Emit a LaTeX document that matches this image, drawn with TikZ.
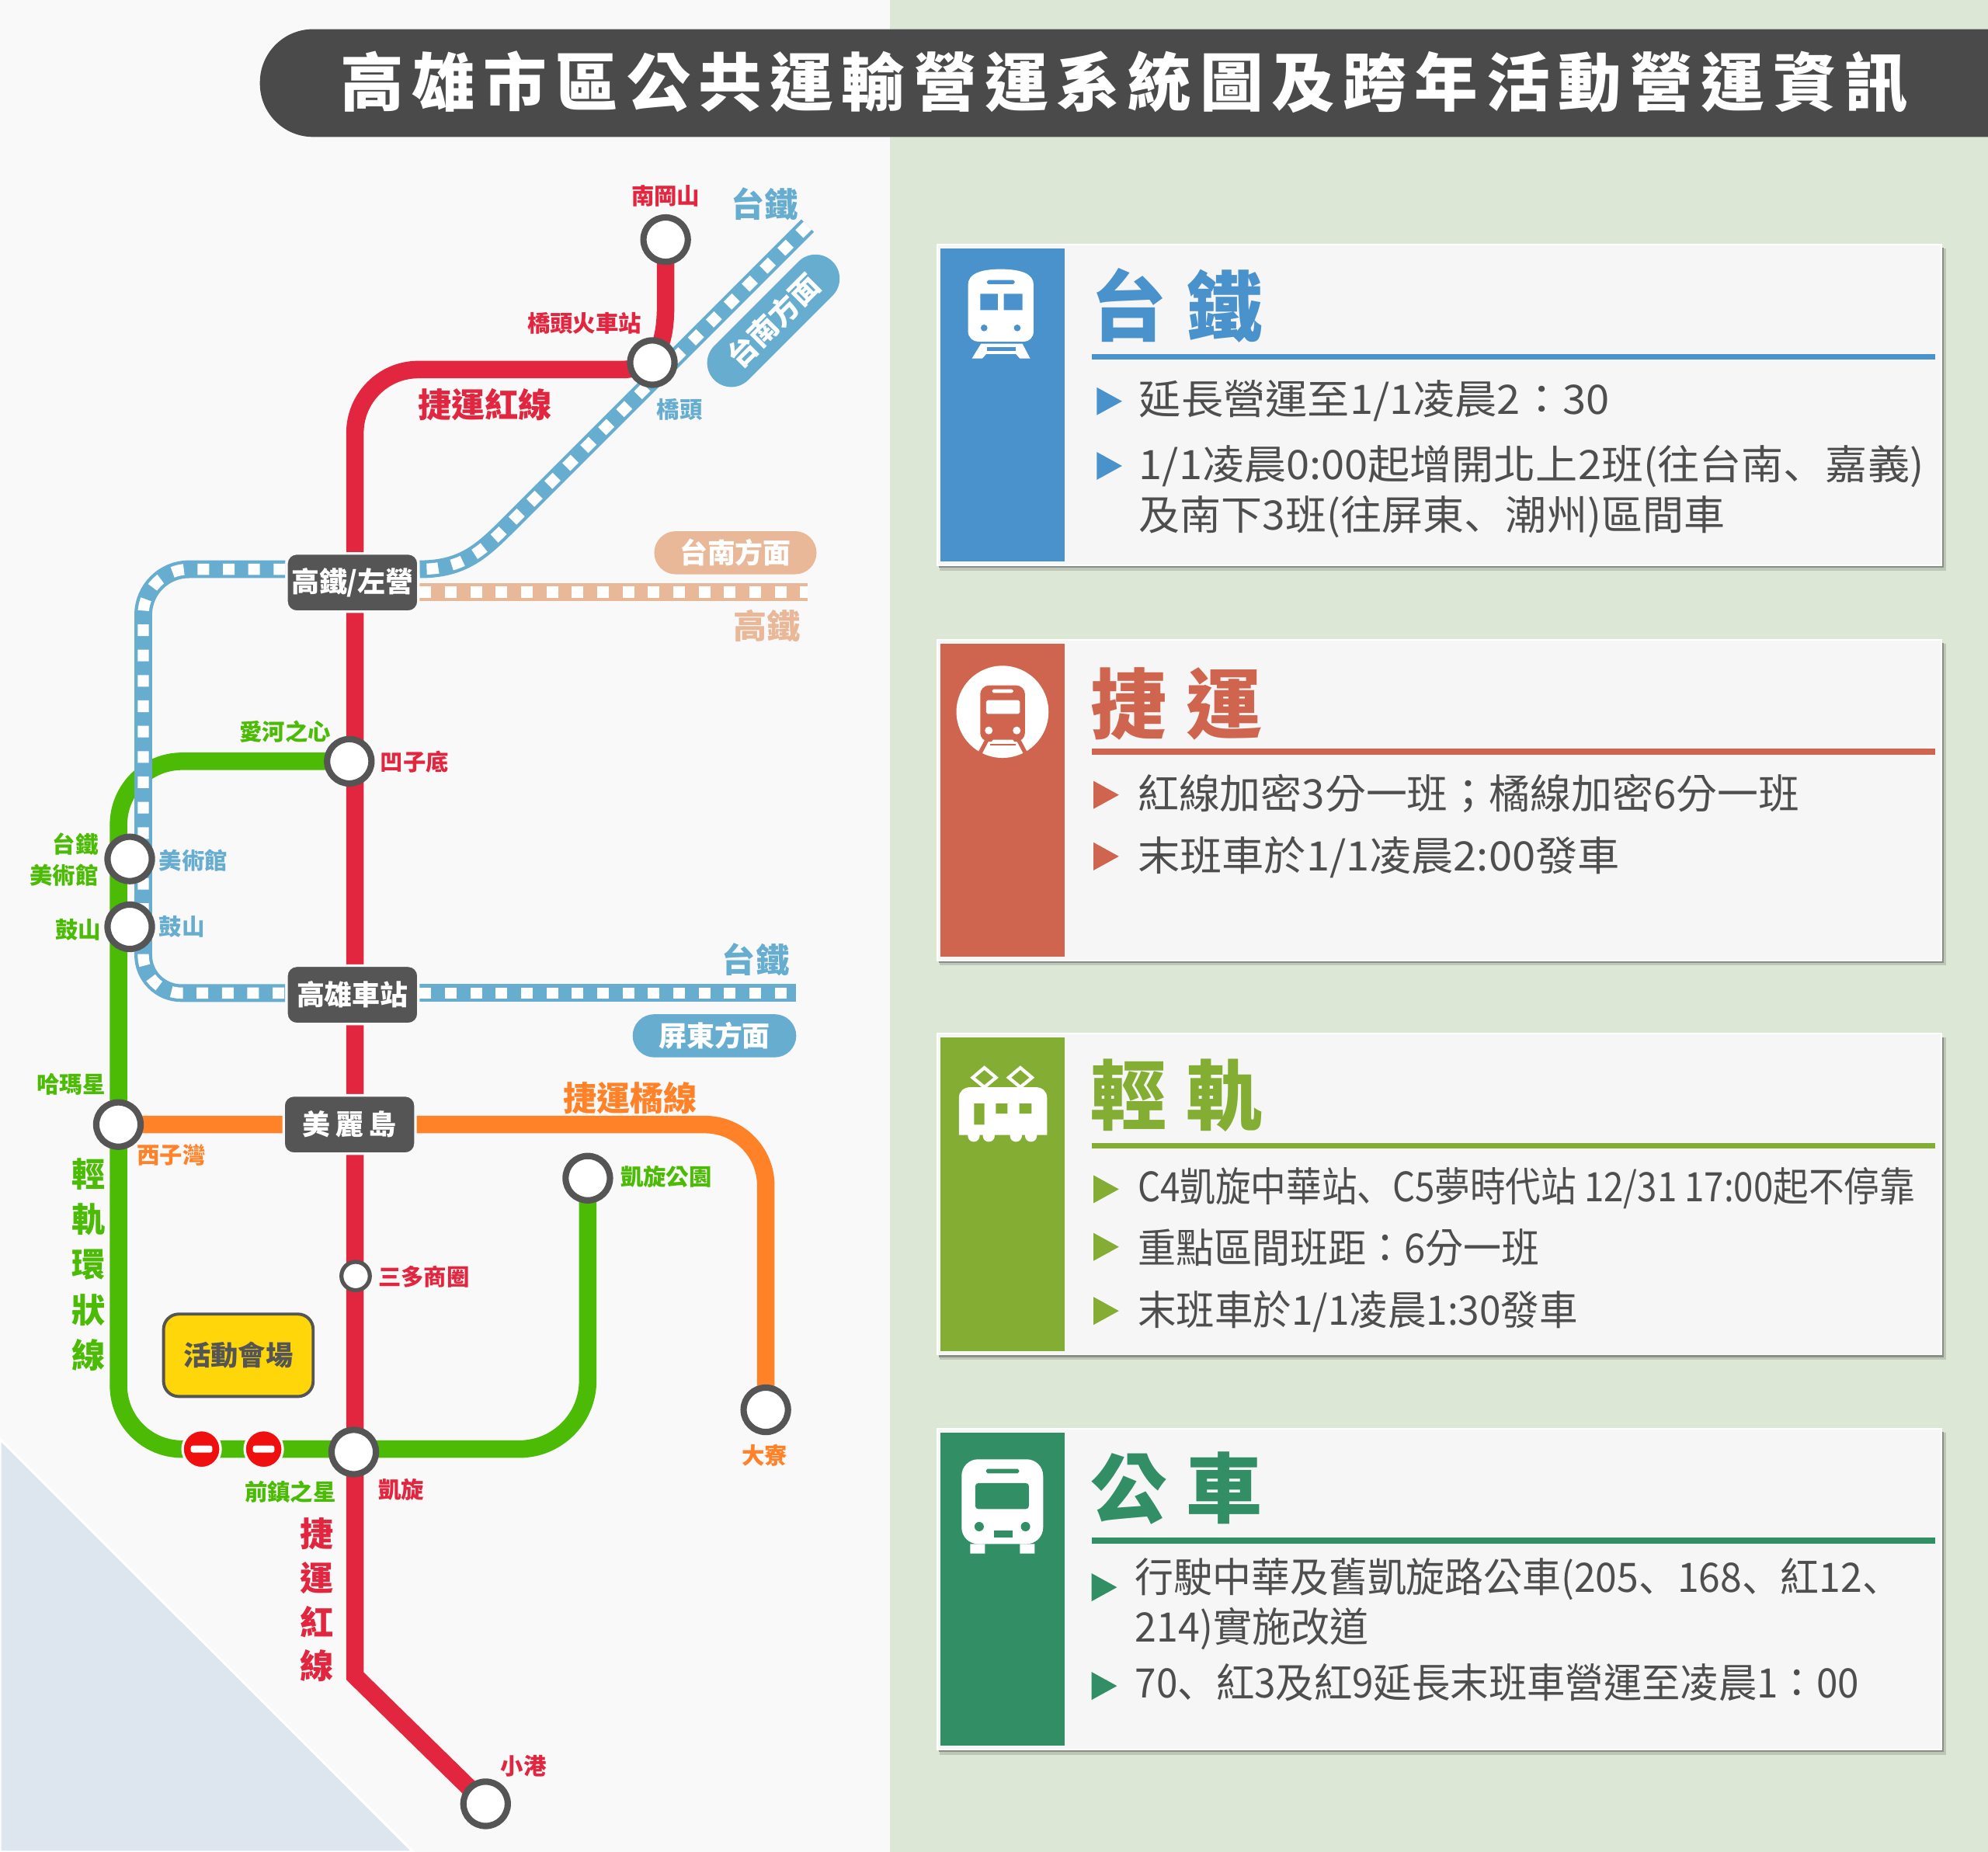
\documentclass[tikz,border=0pt]{standalone}
\usepackage{fontspec}
\setmainfont{Noto Sans CJK TC}
\newfontfamily\scpunct{Noto Sans CJK SC}
\usetikzlibrary{calc}
\definecolor{leftbg}{HTML}{F9F9F9}
\definecolor{rightbg}{HTML}{DDE7D5}
\definecolor{cornerbg}{HTML}{DDE5EE}
\definecolor{darkbar}{HTML}{4A4A4A}
\definecolor{stationgray}{HTML}{555555}
\definecolor{tred}{HTML}{E2263F}
\definecolor{tgreen}{HTML}{4CBB05}
\definecolor{torange}{HTML}{FF8228}
\definecolor{tblue}{HTML}{66ADD0}
\definecolor{tpeach}{HTML}{E9B899}
\definecolor{cardfill}{HTML}{F6F6F6}
\definecolor{bodytxt}{HTML}{4E4E4E}
\definecolor{cblue}{HTML}{4A92CC}
\definecolor{cred}{HTML}{D0654F}
\definecolor{cgreen}{HTML}{84AE33}
\definecolor{cteal}{HTML}{318E65}
\definecolor{signred}{HTML}{F00F0F}
\definecolor{boxyellow}{HTML}{FFD60A}
\newcommand\fz[1]{\fontsize{#1}{#1}\selectfont}
\newcommand\dun{{\scpunct 、}}
\newcommand\fitw[2]{\resizebox{#1pt}{\height}{#2}}
\pgfdeclarelayer{bgl}
\pgfdeclarelayer{linesl}
\pgfsetlayers{bgl,linesl,main}
\tikzset{
  x=.5pt,y=-.5pt,
  metro/.style={draw=#1,line width=6.9pt},
  rail/.style={draw=#1,line width=7pt,postaction={draw=white,line width=4.4pt,dash pattern=on 4.6pt off 5.4pt}},
  station/.style={circle,draw=stationgray,fill=white,line width=2.5pt,minimum size=17.5pt,inner sep=0pt},
  hub/.style={rectangle,rounded corners=4pt,fill=stationgray,draw=leftbg,line width=1pt,minimum width=52pt,minimum height=23pt,inner sep=0pt,text=white,font=\bfseries\fz{11}},
  pill/.style={rectangle,rounded corners=8.5pt,fill=#1,minimum height=17pt,inner sep=0pt,text=white,font=\bfseries\fz{11}},
  lab/.style={inner sep=0pt,text=#1,font=\bfseries\fz{9}},
  biglab/.style={inner sep=0pt,text=#1,font=\bfseries\fz{13.2}},
  nosign/.style={circle,fill=signred,draw=leftbg,line width=1pt,minimum size=15pt,inner sep=0pt},
  head/.style={inner sep=0pt,anchor=west,text=#1,font=\bfseries\fz{30}},
  bodyline/.style={inner sep=0pt,anchor=base west,text=bodytxt,font=\fz{16}},
}
\newcommand\card[3]{% top y, colour, name
  \fill[black!14!rightbg] (741,#1+3) rectangle (1535,#1+257);
  \fill[black!38!rightbg] (740.5,#1+2.5) rectangle (1533,#1+255);
  \fill[cardfill,draw=white,line width=.6pt] (739,#1) rectangle (1531,#1+253);
  \fill[#2] (741.5,#1+3) rectangle (839.5,#1+250);
  \fill[#2] (861,#1+86) rectangle (1526.5,#1+90.6);
}
\newcommand\bul[4]{\fill[#1] (#2,#3-11) -- (#2+20,#3) -- (#2,#3+11) -- cycle;}
\begin{document}
\begin{tikzpicture}
\useasboundingbox (0,0) rectangle (1568,1460.8);
\begin{pgfonlayer}{bgl}
\fill[leftbg] (0,0) rectangle (702,1460.8);
\fill[rightbg] (702,0) rectangle (1568,1460.8);
\fill[cornerbg,draw=white,line width=1pt] (0,1135) -- (326,1460.8) -- (0,1460.8) -- cycle;
\fill[darkbar,rounded corners=21pt] (205,23) rectangle (1660,108);
\end{pgfonlayer}
\node[inner sep=0pt,text=white,anchor=west] (title) at (268,65) {\bfseries\fz{25}\addfontfeatures{LetterSpace=13}高雄市區公共運輸營運系統圖及跨年活動營運資訊};

% stations
\node[station] (nangang) at (525,189) {};
\node[station] (qiaotou) at (514.5,286) {};
\node[station] (aozidi) at (275.5,600.5) {};
\node[station] (museum) at (102.3,677.5) {};
\node[station] (gushan) at (102.3,731) {};
\node[station] (xizi) at (93.4,887) {};
\node[station] (kaipark) at (463.6,929.3) {};
\node[station,line width=1.6pt,minimum size=11.2pt] (sanduo) at (280.5,1006.5) {};
\node[station] (daliao) at (604,1112) {};
\node[station] (kaixuan) at (279,1145.3) {};
\node[station] (xiaogang) at (383,1422.8) {};
\node[hub] (zuoying) at (278,459.5) {高鐵/左營};
\node[hub] (kaohsiung) at (278,784.7) {高雄車站};
\node[hub] (formosa) at (275.7,887) {美\hspace{2pt}麗\hspace{2pt}島};
\node[nosign] (signa) at (159,1143) {};
\node[nosign] (signb) at (208,1143) {};
\fill[white,rounded corners=.8pt] (150.5,1140.3) rectangle (167.5,1145.7);
\fill[white,rounded corners=.8pt] (199.5,1140.3) rectangle (216.5,1145.7);

\begin{pgfonlayer}{linesl}
\draw[metro=tgreen] (aozidi.center) [rounded corners=25pt] -- (93.5,600.5) -- (93.5,1143) [rounded corners=27pt] -- (463.6,1143) [sharp corners] -- (kaipark.center);
\coordinate (railne) at (637,178);
\coordinate (hsrend) at (637,467);
\coordinate (traeast) at (628,783.3);
\draw[rail=tblue] (railne) -- (402,413) .. controls (380,435) and (365,449) .. (zuoying.east |- 0,449);
\draw[rail=tblue] (zuoying.west |- 0,449) [rounded corners=18pt] -- (113,449) [rounded corners=15pt] -- (113,783.3) -- (kaohsiung.west |- 0,783.3);
\draw[rail=tblue] (kaohsiung.east |- 0,783.3) -- (traeast);
\draw[rail=tpeach] (zuoying.east |- 0,467) -- (hsrend);
\draw[metro=torange] (xizi.center) [rounded corners=24pt] -- (604,887) -- (daliao.center);
\draw[metro=tred] (nangang.center) -- (525,240) .. controls (525,272) and (518,291.5) .. (490,291.5) [rounded corners=25pt] -- (280,291.5) [sharp corners] -- (280,1322) -- (xiaogang.center);
\end{pgfonlayer}

% pills
\node[pill=tpeach,minimum width=64pt] (pilla) at (580,436) {台南方面};
\node[pill=tblue,minimum width=64.5pt] (pillb) at (563.5,817) {屏東方面};
\node[pill=tblue,minimum width=66pt,minimum height=19pt,rounded corners=9.5pt,rotate=45,font=\bfseries\fz{11.5}] (pillc) at (610,253) {台南方面};
\node[rectangle,rounded corners=6pt,fill=boxyellow,draw=stationgray,line width=1.2pt,minimum width=59pt,minimum height=32.5pt,inner sep=0pt,text=stationgray,font=\bfseries\fz{10.8}] (venue) at (188,1069) {活動會場};

% map labels
\node[lab=tred] (l1) at (525,154.5) {南岡山};
\node[lab=tred] (l2) at (461,255) {橋頭火車站};
\node[biglab=tred] (l3) at (382.5,319) {捷運紅線};
\node[lab=tblue] (l4) at (536,323) {橋頭};
\node[biglab=tblue] (l5) at (603,161) {台鐵};
\node[biglab=tpeach] (l6) at (605,494) {高鐵};
\node[lab=tgreen] (l7) at (225,577) {愛河之心};
\node[lab=tred] (l8) at (327,601) {凹子底};
\node[lab=tgreen,anchor=east] (l9) at (78,666) {台鐵};
\node[lab=tgreen,anchor=east] (l10) at (78,690.5) {美術館};
\node[lab=tblue,anchor=west] (l11) at (125,679) {美術館};
\node[lab=tgreen,anchor=east] (l12) at (80,733.5) {鼓山};
\node[lab=tblue,anchor=west] (l13) at (125,731) {鼓山};
\node[biglab=tblue] (l14) at (596,757) {台鐵};
\node[lab=tgreen] (l15) at (56,855) {哈瑪星};
\node[lab=torange] (l16) at (135,911) {西子灣};
\node[biglab=torange] (l17) at (497,866) {捷運橘線};
\node[lab=tgreen,anchor=west] (l18) at (489,928) {凱旋公園};
\node[lab=tred,anchor=west] (l19) at (298,1007) {三多商圈};
\node[lab=torange] (l20) at (603,1148) {大寮};
\node[lab=tgreen] (l21) at (229,1177) {前鎮之星};
\node[lab=tred] (l22) at (316.5,1175) {凱旋};
\node[lab=tred] (l23) at (413,1393) {小港};
\node[inner sep=0pt,text=tgreen,align=center,font=\bfseries\fontsize{13.2}{17.85}\selectfont] (l24) at (70,997.5) {輕\\軌\\環\\狀\\線};
\node[inner sep=0pt,text=tred,align=center,font=\bfseries\fontsize{13.2}{17.35}\selectfont] (l25) at (250,1262) {捷\\運\\紅\\線};

% cards
\card{193}{cblue}{a}
\card{504.5}{cred}{b}
\card{815.5}{cgreen}{c}
\card{1127}{cteal}{d}
\node[head=cblue] (h1) at (860,241) {台\hspace{7.5pt}鐵};
\node[head=cred] (h2) at (860,555) {捷\hspace{7.5pt}運};
\node[head=cgreen] (h3) at (860,864) {輕\hspace{7.5pt}軌};
\node[head=cteal] (h4) at (860,1174) {公\hspace{7.5pt}車};

\bul{cblue}{865}{316.5}{}
\bul{cblue}{865}{367.5}{}
\node[bodyline] (t1) at (898,327) {\fitw{185.5}{延長營運至1/1凌晨2：30}};
\node[bodyline] (t2) at (898,378) {\fitw{309.5}{1/1凌晨0:00起增開北上2班(往台南\dun 嘉義)}};
\node[bodyline] (t3) at (898,418) {\fitw{231}{及南下3班(往屏東\dun 潮州)區間車}};

\bul{cred}{862.5}{627}{}
\bul{cred}{862.5}{675.5}{}
\node[bodyline] (t4) at (897,638) {\fitw{261}{紅線加密3分一班；橘線加密6分一班}};
\node[bodyline] (t5) at (897,687) {\fitw{190}{末班車於1/1凌晨2:00發車}};

\bul{cgreen}{862.5}{938}{}
\bul{cgreen}{862.5}{983.5}{}
\bul{cgreen}{862.5}{1034}{}
\node[bodyline] (t6) at (897,948) {\fitw{306.5}{C4凱旋中華站\dun C5夢時代站 12/31 17:00起不停靠}};
\node[bodyline] (t7) at (897,996) {\fitw{158.5}{重點區間班距：6分一班}};
\node[bodyline] (t8) at (897,1045) {\fitw{173.5}{末班車於1/1凌晨1:30發車}};

\bul{cteal}{861}{1252}{}
\bul{cteal}{861}{1329.8}{}
\node[bodyline] (t9) at (895,1256) {\fitw{302}{行駛中華及舊凱旋路公車(205\dun 168\dun 紅12\dun}};
\node[bodyline] (t10) at (895,1295) {\fitw{92}{214)實施改道}};
\node[bodyline] (t11) at (895,1339) {\fitw{285.5}{70\dun 紅3及紅9延長末班車營運至凌晨1：00}};

% icon: train
\begin{scope}[shift={(738,202.1)},scale=.2042]
\fill[white] (125,110) .. controls (125,70) and (170,50) .. (250,50) .. controls (335,50) and (378,70) .. (378,110) -- (378,290) .. controls (378,315) and (360,330) .. (340,330) -- (165,330) .. controls (145,330) and (125,315) .. (125,290) -- cycle;
\fill[cblue] (172,145) rectangle (240,208) (263,145) rectangle (335,208);
\fill[cblue,rounded corners=.6pt] (198,92) rectangle (305,108);
\fill[cblue] (187,277) circle[radius=13] (315,277) circle[radius=13];
\fill[white] (175,338) -- (335,338) -- (365,395) -- (325,395) -- (310,378) -- (195,378) -- (180,395) -- (140,395) -- cycle;
\fill[cblue] (198,352) rectangle (310,365);
\end{scope}

% icon: metro
\begin{scope}[shift={(738,514.5)},scale=.2042]
\fill[white] (258,230) circle[radius=178];
\fill[cred,rounded corners=3.5pt] (172,128) rectangle (345,345);
\fill[white,rounded corners=.6pt] (218,143) rectangle (300,157);
\fill[white,rounded corners=.6pt] (195,185) rectangle (325,238);
\fill[white] (205,302) circle[radius=15] (313,302) circle[radius=15];
\draw[cred,line width=1.6pt] (200,335) -- (170,392);
\draw[cred,line width=1.6pt] (318,335) -- (348,392);
\fill[white] (222,338) -- (298,338) -- (308,352) -- (210,352) -- cycle;
\fill[cred] (210,353) rectangle (310,361);
\end{scope}

% icon: tram
\begin{scope}[shift={(738,826.9)},scale=.2042]
\draw[white,line width=1.3pt] (188,75) -- (233,113) -- (188,150) -- (143,113) -- cycle;
\draw[white,line width=1.3pt] (327,75) -- (372,113) -- (327,150) -- (282,113) -- cycle;
\fill[white] (90,335) -- (90,190) .. controls (90,165) and (110,150) .. (135,150) -- (385,150) .. controls (410,150) and (430,165) .. (430,190) -- (430,335) -- cycle;
\fill[white] (147,338) circle[radius=23] (205,338) circle[radius=23] (310,338) circle[radius=23] (368,338) circle[radius=23];
\fill[cgreen] (148,213) rectangle (188,295) (232,213) rectangle (277,252) (323,213) rectangle (370,252);
\end{scope}

% icon: bus
\begin{scope}[shift={(738,1139.2)},scale=.2042]
\fill[white,rounded corners=6.5pt] (100,58) rectangle (415,385);
\fill[white] (133,385) rectangle (190,422) (325,385) rectangle (382,422);
\fill[cteal,rounded corners=.6pt] (195,95) rectangle (322,112);
\fill[cteal,rounded corners=1.2pt] (153,150) rectangle (360,250);
\fill[cteal] (168,318) circle[radius=18] (347,318) circle[radius=18];
\fill[cteal] (225,333) rectangle (297,360);
\end{scope}
\end{tikzpicture}
\end{document}
